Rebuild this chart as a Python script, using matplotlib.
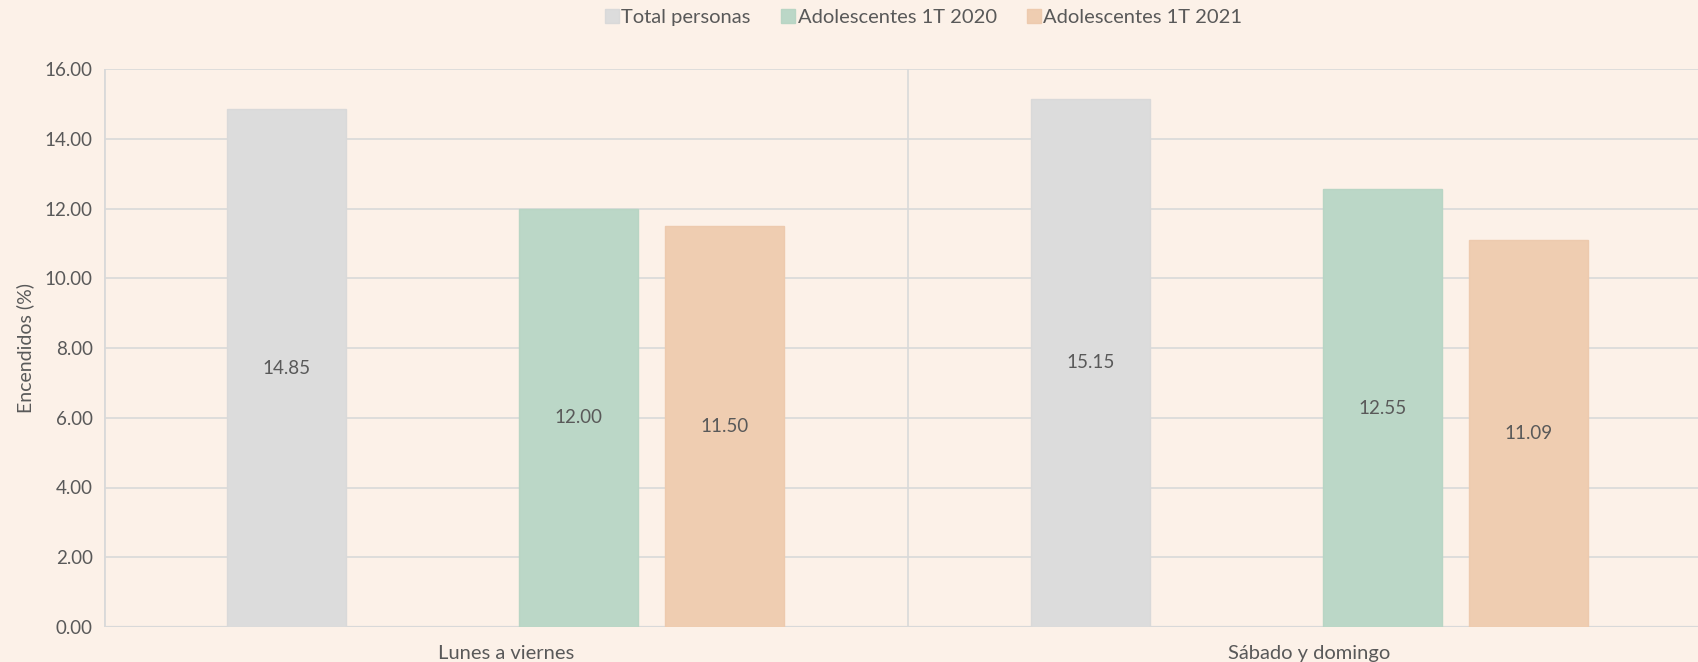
import numpy as np
import matplotlib
matplotlib.use('Agg')
import matplotlib.pyplot as plt

plt.rcParams['font.family'] = ['Lato', 'DejaVu Sans']

categories = ['Lunes a viernes', 'Sábado y domingo']
series_names = ['Total personas', 'Adolescentes 1T 2020', 'Adolescentes 1T 2021']
total_personas = [14.85, 15.15]
ado_2020 = [12.00, 12.55]
ado_2021 = [11.50, 11.09]
yticks = [0, 2, 4, 6, 8, 10, 12, 14, 16]

bg = '#FCF1E8'
txt = '#595959'
grid_c = '#D9D9D9'
fills = ['#DCDCDC', '#BBD7C7', '#EFCDB1']
edges = ['#D9D9D9', '#B8D5C4', '#EDCAAE']

fig = plt.figure(figsize=(16.98, 6.62), dpi=100, facecolor=bg)
ax = fig.add_axes([104 / 1698, 35 / 662, 1607 / 1698, 558 / 662])
ax.set_facecolor(bg)

# 4 slots per category in the original (one series is empty)
slot = 0.1817
width = 0.148
slots = [0, 2, 3]
x = np.arange(len(categories))
data = [total_personas, ado_2020, ado_2021]

for i, (name, vals) in enumerate(zip(series_names, data)):
    off = (slots[i] - 1.5) * slot
    bars = ax.bar(x + off, vals, width, color=fills[i], edgecolor=edges[i],
                  linewidth=1.0, label=name, zorder=3)
    for b, v in zip(bars, vals):
        ax.text(b.get_x() + b.get_width() / 2, v / 2, f'{v:.2f}',
                ha='center', va='center', fontsize=13.5, color=txt, zorder=4)

ax.set_xlim(-0.5, 1.5)
ax.set_ylim(0, 16)
ax.set_yticks(yticks)
ax.set_yticklabels([f'{t:.2f}' for t in yticks])
ax.yaxis.grid(True, color=grid_c, linewidth=1.2, zorder=0)
ax.axvline(0.5, color=grid_c, linewidth=1.2, zorder=1)
ax.axvline(-0.5, color=grid_c, linewidth=2, zorder=1)
ax.set_xticks(x)
ax.set_xticklabels(categories)
ax.tick_params(axis='y', length=0, labelsize=13.5, colors=txt, pad=8)
ax.tick_params(axis='x', length=0, labelsize=14.5, colors=txt, pad=13)
for s in ax.spines.values():
    s.set_visible(False)
ax.axhline(0, color=grid_c, linewidth=1.6, zorder=2)

ax.set_ylabel('Encendidos (%)', fontsize=14, color=txt, labelpad=8)

fig.legend(loc='center', bbox_to_anchor=(0.544, 0.973), ncol=3, frameon=False,
           fontsize=14.5, labelcolor=txt, handlelength=0.7, handleheight=0.7,
           handletextpad=0.12, columnspacing=1.5)

fig.savefig('out.png', dpi=100, facecolor=bg)
